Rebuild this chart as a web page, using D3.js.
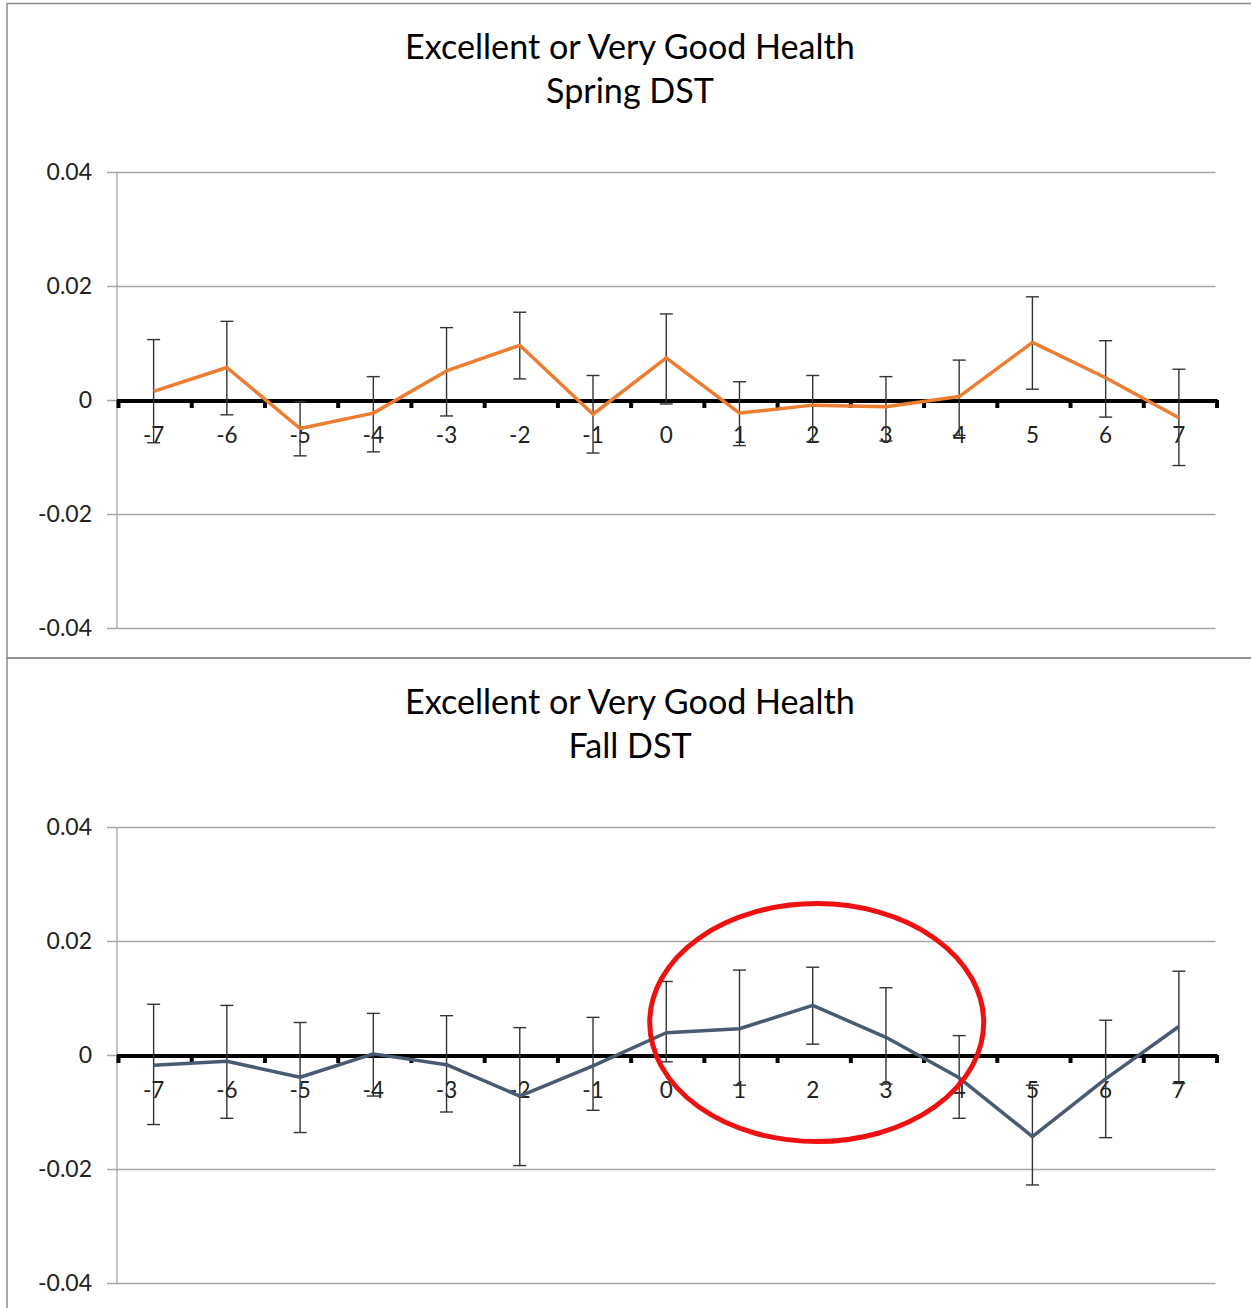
<!DOCTYPE html>
<html>
<head>
<meta charset="utf-8">
<script src="https://cdn.jsdelivr.net/npm/d3@7"></script>
<style>
  html, body { margin: 0; padding: 0; background: #fff; }
  svg { display: block; font-family: Lato, "Open Sans", sans-serif; }
</style>
</head>
<body>
<svg id="chart" width="1251" height="1308"></svg>
<script>
// ---- data ----
const categories = ["-7","-6","-5","-4","-3","-2","-1","0","1","2","3","4","5","6","7"];
const yTicks = [-0.04, -0.02, 0, 0.02, 0.04];
const yTickLabels = ["-0.04", "-0.02", "0", "0.02", "0.04"];

const springTitle = ["Excellent or Very Good Health", "Spring DST"];
const springValues = [0.0015, 0.0057, -0.0050, -0.0023, 0.0051, 0.0096, -0.0025, 0.0074, -0.0023, -0.0009, -0.0012, 0.0006, 0.0101, 0.0039, -0.0031];
const springUpper  = [0.0106, 0.0138, -0.0003, 0.0041, 0.0127, 0.0154, 0.0043, 0.0151, 0.0032, 0.0043, 0.0041, 0.0070, 0.0181, 0.0104, 0.0054];
const springLower  = [-0.0075, -0.0026, -0.0098, -0.0091, -0.0028, 0.0037, -0.0093, -0.0007, -0.0080, -0.0073, -0.0072, -0.0062, 0.0019, -0.0030, -0.0115];

const fallTitle = ["Excellent or Very Good Health", "Fall DST"];
const fallValues = [-0.0018, -0.0011, -0.0039, 0.0002, -0.0017, -0.0072, -0.0019, 0.0039, 0.0046, 0.0087, 0.0031, -0.0040, -0.0143, -0.0042, 0.0050];
const fallUpper  = [0.0089, 0.0087, 0.0057, 0.0073, 0.0069, 0.0048, 0.0066, 0.0129, 0.0149, 0.0154, 0.0118, 0.0034, -0.0053, 0.0061, 0.0147];
const fallLower  = [-0.0122, -0.0111, -0.0136, -0.0072, -0.0100, -0.0194, -0.0097, -0.0012, -0.0053, 0.0019, -0.0051, -0.0111, -0.0228, -0.0145, -0.0050];

// annotation: red ellipse centred on category "2" in the fall panel
const highlightCategory = "2";
const highlightValue = 0.0056;

// ---- layout ----
const svg = d3.select("#chart");
const plotLeft = 117, plotRight = 1215.5;

// panel frames
svg.append("rect").attr("x", 7).attr("y", 3.5).attr("width", 1260).attr("height", 654.5)
  .attr("fill", "none").attr("stroke", "#8c8c8c").attr("stroke-width", 1.5);
svg.append("rect").attr("x", 7).attr("y", 658).attr("width", 1260).attr("height", 700)
  .attr("fill", "none").attr("stroke", "#8c8c8c").attr("stroke-width", 1.5);

function drawPanel(offsetY, title, values, upper, lower, color, annotate) {
  const g = svg.append("g").attr("transform", `translate(0,${offsetY})`);

  const x = d3.scaleBand().domain(categories).range([plotLeft, plotRight]).padding(0);
  const y = d3.scaleLinear().domain([-0.04, 0.04]).range([628, 172]);

  // title
  const t = g.append("text").attr("text-anchor", "middle").attr("fill", "#000");
  t.append("tspan").attr("x", 630).attr("y", 59).text(title[0]);
  t.append("tspan").attr("x", 630).attr("y", 103).text(title[1]);
  t.attr("font-size", 30);
  const w0 = t.select("tspan").node().getComputedTextLength();
  t.attr("font-size", 30 * 450 / w0);

  // gridlines + y labels
  const yAxis = d3.axisLeft(y).tickValues(yTicks)
    .tickFormat((d, i) => yTickLabels[i])
    .tickSize(-(plotRight - plotLeft) - 10).tickPadding(16);
  const ya = g.append("g").attr("transform", `translate(${plotRight},0)`).call(yAxis);
  ya.select(".domain").remove();
  ya.selectAll(".tick line").attr("stroke", "#a6a6a6").attr("stroke-width", 1.3)
    .attr("x1", 0).attr("x2", -(plotRight - plotLeft) - 10);
  ya.selectAll(".tick text").attr("x", -(plotRight - plotLeft) - 25)
    .attr("font-size", 23).attr("fill", "#222").attr("font-family", "Lato, sans-serif");

  // vertical y axis line
  g.append("line").attr("x1", plotLeft).attr("x2", plotLeft)
    .attr("y1", y(0.04)).attr("y2", y(-0.04)).attr("stroke", "#a6a6a6").attr("stroke-width", 1.3);

  // x axis: thick line at zero, boundary ticks
  const y0 = y(0);
  g.append("line").attr("x1", plotLeft).attr("x2", plotRight + 2)
    .attr("y1", y0 + 1).attr("y2", y0 + 1).attr("stroke", "#000").attr("stroke-width", 4);
  const bounds = categories.map(c => x(c)).concat([plotRight]);
  g.selectAll(".bt").data(bounds).join("line")
    .attr("x1", d => d + 1.5).attr("x2", d => d + 1.5)
    .attr("y1", y0).attr("y2", y0 + 8).attr("stroke", "#000").attr("stroke-width", 4);

  // x labels
  const xAxis = d3.axisBottom(x).tickSize(0).tickPadding(0);
  const xa = g.append("g").attr("transform", `translate(0,${y0})`).call(xAxis);
  xa.select(".domain").remove();
  xa.selectAll(".tick text").attr("y", 43).attr("dy", 0)
    .attr("font-size", 22.5).attr("fill", "#222").attr("font-family", "Lato, sans-serif");

  // error bars
  const eb = g.append("g").attr("stroke", "#333").attr("stroke-width", 1.4);
  categories.forEach((c, i) => {
    const cx = x(c) + x.bandwidth() / 2;
    eb.append("line").attr("x1", cx).attr("x2", cx).attr("y1", y(upper[i])).attr("y2", y(lower[i]));
    eb.append("line").attr("x1", cx - 6.5).attr("x2", cx + 6.5).attr("y1", y(upper[i])).attr("y2", y(upper[i]));
    eb.append("line").attr("x1", cx - 6.5).attr("x2", cx + 6.5).attr("y1", y(lower[i])).attr("y2", y(lower[i]));
  });

  // line
  const line = d3.line().x((d, i) => x(categories[i]) + x.bandwidth() / 2).y(d => y(d));
  g.append("path").datum(values).attr("d", line).attr("fill", "none")
    .attr("stroke", color).attr("stroke-width", 3.5).attr("stroke-linejoin", "round");

  if (annotate) {
    g.append("ellipse")
      .attr("cx", x(highlightCategory) + x.bandwidth() / 2 + 4)
      .attr("cy", y(highlightValue) - 0.5)
      .attr("rx", 167).attr("ry", 119)
      .attr("fill", "none").attr("stroke", "#ee1111").attr("stroke-width", 5);
  }
}

drawPanel(0, springTitle, springValues, springUpper, springLower, "#ED7D31", false);
drawPanel(655, fallTitle, fallValues, fallUpper, fallLower, "#4A5A70", true);
</script>
</body>
</html>
